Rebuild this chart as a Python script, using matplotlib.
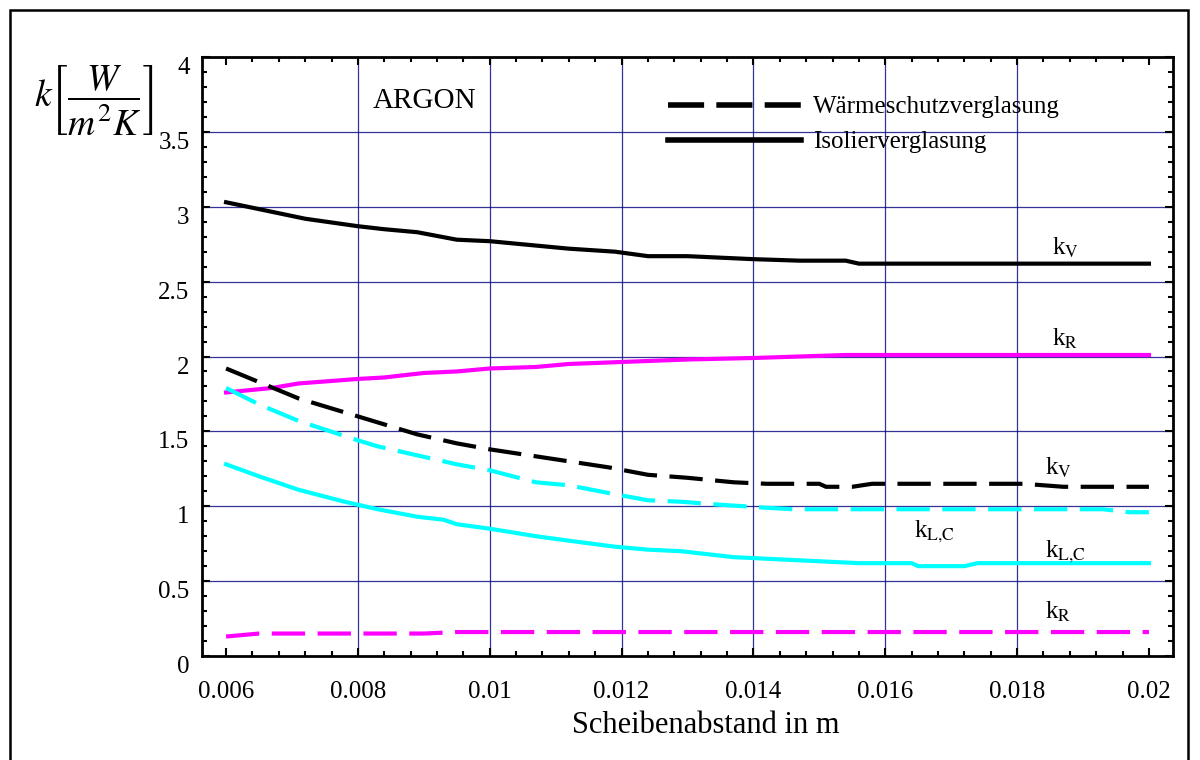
import matplotlib
matplotlib.use("Agg")
import matplotlib.pyplot as plt
from matplotlib.patches import Rectangle
from matplotlib.ticker import MultipleLocator, FuncFormatter

plt.rcParams['font.family'] = ['Liberation Serif', 'DejaVu Serif']
plt.rcParams['mathtext.fontset'] = 'stix'

# Isolierverglasung (solid lines)
iso_kv_x = [0.006, 0.0072, 0.008, 0.0084, 0.0089, 0.0095, 0.010, 0.0112, 0.0119,
            0.0124, 0.0130, 0.0140, 0.0147, 0.0154, 0.0156, 0.020]
iso_kv = [3.03, 2.92, 2.87, 2.85, 2.83, 2.78, 2.77, 2.72, 2.70,
          2.67, 2.67, 2.65, 2.64, 2.64, 2.62, 2.62]

iso_kr_x = [0.006, 0.0067, 0.0071, 0.008, 0.0084, 0.009, 0.0095, 0.010, 0.0107,
            0.0112, 0.0118, 0.013, 0.014, 0.0147, 0.0154, 0.020]
iso_kr = [1.76, 1.79, 1.82, 1.85, 1.86, 1.89, 1.90, 1.92, 1.93,
          1.95, 1.96, 1.98, 1.99, 2.00, 2.01, 2.01]

iso_klc_x = [0.006, 0.0065, 0.0071, 0.0078, 0.008, 0.0083, 0.0089, 0.0093, 0.0095,
             0.010, 0.0107, 0.0112, 0.0119, 0.0124, 0.0129, 0.0137, 0.0156, 0.0164,
             0.0165, 0.0172, 0.0174, 0.020]
iso_klc = [1.28, 1.20, 1.11, 1.03, 1.01, 0.98, 0.93, 0.91, 0.88,
           0.85, 0.80, 0.77, 0.73, 0.71, 0.70, 0.66, 0.62, 0.62,
           0.60, 0.60, 0.62, 0.62]

# Waermeschutzverglasung (dashed lines)
wsv_kv_x = [0.006, 0.0071, 0.008, 0.0083, 0.0089, 0.0095, 0.010, 0.0112, 0.0118,
            0.0124, 0.013, 0.0137, 0.0142, 0.0150, 0.0151, 0.0155, 0.0158, 0.0181,
            0.0187, 0.020]
wsv_kv = [1.92, 1.72, 1.60, 1.56, 1.48, 1.42, 1.38, 1.30, 1.26,
          1.21, 1.19, 1.16, 1.15, 1.15, 1.13, 1.13, 1.15, 1.15,
          1.13, 1.13]

wsv_klc_x = [0.006, 0.0065, 0.0071, 0.008, 0.0083, 0.0089, 0.0095, 0.010, 0.0107,
             0.0112, 0.0119, 0.0124, 0.0129, 0.0135, 0.0142, 0.0146, 0.0193, 0.0197,
             0.020]
wsv_klc = [1.79, 1.68, 1.57, 1.44, 1.40, 1.34, 1.28, 1.24, 1.16,
           1.14, 1.08, 1.04, 1.03, 1.01, 0.99, 0.98, 0.98, 0.96,
           0.96]

wsv_kr_x = [0.006, 0.0065, 0.0090, 0.0095, 0.020]
wsv_kr = [0.13, 0.15, 0.15, 0.16, 0.16]

# curve labels: (text, x, y)
curve_labels = [
    (r'k$_\mathrm{V}$', 0.01853, 2.68),
    (r'k$_\mathrm{R}$', 0.01853, 2.07),
    (r'k$_\mathrm{V}$', 0.01842, 1.21),
    (r'k$_\mathrm{L{,}C}$', 0.01644, 0.79),
    (r'k$_\mathrm{L{,}C}$', 0.01842, 0.66),
    (r'k$_\mathrm{R}$', 0.01842, 0.25),
]

fig = plt.figure(figsize=(12, 7.6), dpi=100)
ax = fig.add_axes([202 / 1200, 1 - 656 / 760, 971 / 1200, 599 / 760])

lw = 3
dash = (8, 3)
ax.plot(iso_kv_x, iso_kv, color='black', lw=lw)
ax.plot(iso_kr_x, iso_kr, color='#FF00FF', lw=lw)
ax.plot(iso_klc_x, iso_klc, color='#00FFFF', lw=lw)
ax.plot(wsv_kv_x, wsv_kv, color='black', lw=lw, dashes=dash)
ax.plot(wsv_klc_x, wsv_klc, color='#00FFFF', lw=lw, dashes=dash)
ax.plot(wsv_kr_x, wsv_kr, color='#FF00FF', lw=lw, dashes=dash)

ax.set_xlim(0.005635, 0.020365)
ax.set_ylim(0, 4)
ax.xaxis.set_major_locator(MultipleLocator(0.002))
ax.xaxis.set_minor_locator(MultipleLocator(0.0004))
ax.yaxis.set_major_locator(MultipleLocator(0.5))
ax.yaxis.set_minor_locator(MultipleLocator(0.1))
ax.xaxis.set_major_formatter(FuncFormatter(lambda v, p: f"{v:g}"))
ax.yaxis.set_major_formatter(FuncFormatter(lambda v, p: f"{v:g}"))

ax.tick_params(which='both', direction='in', top=True, right=True, width=1.5)
ax.tick_params(which='major', length=6)
ax.tick_params(which='minor', length=3.5)
ax.tick_params(axis='x', labelsize=18, pad=18)
ax.tick_params(axis='y', labelsize=18, pad=9)
for lab in ax.get_yticklabels():
    lab.set_verticalalignment('top')
for s in ax.spines.values():
    s.set_linewidth(2)

# grid lines only inside the frame
for gx in [0.008, 0.010, 0.012, 0.014, 0.016, 0.018]:
    ax.axvline(gx, color='#000080', lw=0.9, alpha=0.8, zorder=0)
for gy in [0.5, 1.0, 1.5, 2.0, 2.5, 3.0, 3.5]:
    ax.axhline(gy, color='#000080', lw=0.9, alpha=0.8, zorder=0)

for txt, tx, ty in curve_labels:
    ax.text(tx, ty, txt, fontsize=18, ha='left', va='baseline')

ax.text(0.00822, 3.66, 'ARGON', fontsize=21, ha='left', va='baseline')

leg_h = [plt.Line2D([], [], color='black', lw=4, dashes=(6.5, 2.2)),
         plt.Line2D([], [], color='black', lw=4)]
ax.legend(leg_h, ['Wärmeschutzverglasung', 'Isolierverglasung'],
          loc='upper left', bbox_to_anchor=(0.48, 0.935), frameon=False,
          fontsize=18, handlelength=5.3, handletextpad=0.5, labelspacing=0.5,
          borderpad=0, borderaxespad=0)

ax.set_xlabel('Scheibenabstand in m', fontsize=22)
ax.xaxis.set_label_coords(0.519, -0.092)

fig.text(34 / 1200, 1 - 101 / 760, r'$k\left[\dfrac{W}{m^{2}K}\right]$',
         fontsize=27, ha='left', va='center')

# outer frame
fig.patches.append(Rectangle((10 / 1200, -0.05), 1178 / 1200, 1.05 - 10 / 760,
                             transform=fig.transFigure, fill=False,
                             edgecolor='black', lw=1.8))

fig.savefig('out.png', dpi=100)
